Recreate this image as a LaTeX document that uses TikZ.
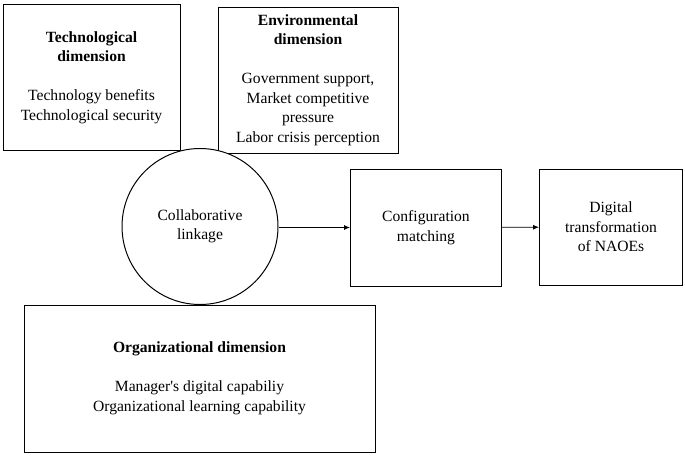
\documentclass[tikz,border=0pt]{standalone}
\usepackage{fontspec}
\setmainfont{Liberation Serif}
\usetikzlibrary{arrows.meta}
\begin{document}
\begin{tikzpicture}[x=1pt,y=1pt,
  txt/.style={font=\fontsize{15.6}{19.5}\selectfont, align=center, text=black},
  dimbox/.style={draw, line width=1pt, txt, inner sep=0pt},
  arr/.style={line width=0.8pt, -{Latex[length=6pt,width=5pt]}}]
\useasboundingbox (0,0) rectangle (685,-456);
\node[dimbox, minimum width=177, minimum height=146] (tech) at (91.5,-77.5)
  {\textbf{Technological}\\\textbf{dimension}\\[19.5pt]Technology benefits\\Technological security};
\node[dimbox, minimum width=180, minimum height=146] (env) at (308,-80)
  {\textbf{Environmental}\\\textbf{dimension}\\[19.5pt]Government support,\\Market competitive\\pressure\\Labor crisis perception};
\node[dimbox, minimum width=351, minimum height=147] (org) at (199.5,-378.5)
  {\textbf{Organizational dimension}\\[19.5pt]Manager\textquotesingle s digital capabiliy\\Organizational learning capability};
\node[dimbox, circle, fill=white, minimum size=156] (circ) at (200,-226.5)
  {Collaborative\\linkage};
\node[dimbox, minimum width=151, minimum height=117] (conf) at (426,-227.5)
  {Configuration\\matching};
\node[dimbox, minimum width=143, minimum height=116] (dig) at (611,-227)
  {Digital\\transformation\\of NAOEs};
\draw[arr] (circ.east |- conf.west) -- (conf.west);
\draw[arr] (conf) -- (dig);
\end{tikzpicture}
\end{document}
